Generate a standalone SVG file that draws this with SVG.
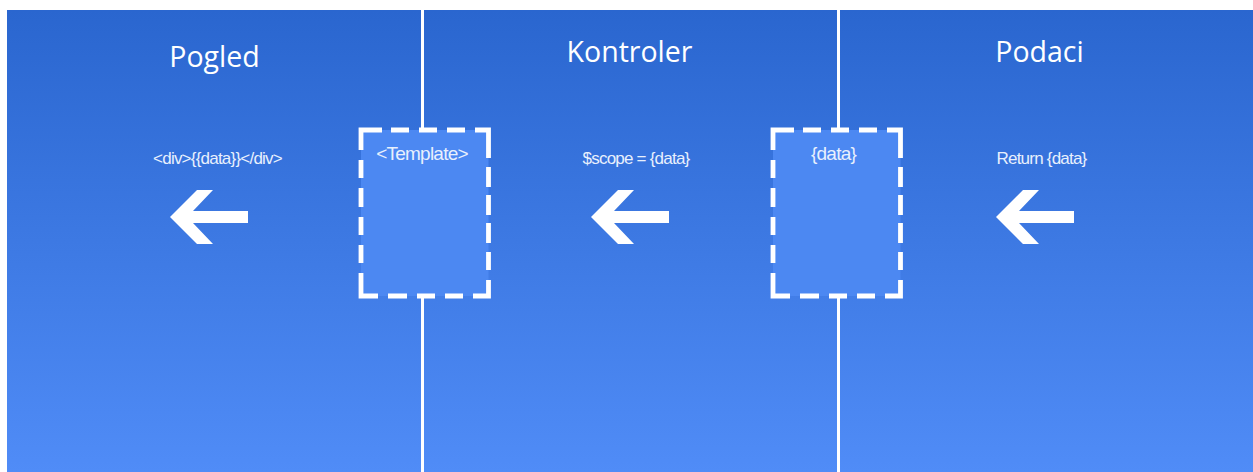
<svg xmlns="http://www.w3.org/2000/svg" width="1253" height="472" viewBox="0 0 1253 472">
<defs>
<linearGradient id="bg" x1="0" y1="0" x2="0" y2="1"><stop offset="0" stop-color="#2a66cf"/><stop offset="1" stop-color="#508cf7"/></linearGradient>
<path id="arrow" d="M0 0L27 -27H43L23 -6H78V6H23L43 27H27Z" fill="#fff"/>
<path id="dashes" fill="none" stroke="#fff" stroke-width="4.800" d="M361 150V130H382M391 130H409M419 130H437M447 130H465M475 130H488.500V158M488.500 167V187M488.500 195V215M488.500 223V243M488.500 252V270M488.500 280V296H473M463 296H445M435 296H417M407 296H388M378 296H361V273M361 263V245M361 235V217M361 207V188M361 178V160"/>
</defs>
<style>
.title{font-family:"Open Sans","Noto Sans",sans-serif;font-size:28.500px;fill:#fff;text-anchor:middle}
.small{font-family:"Liberation Sans",Arial,sans-serif;font-size:17px;fill:#e8f0fd;text-anchor:middle;letter-spacing:-.78px}
.big{font-size:19px}
.box{fill:#4c88f2}
.line{stroke:#fff;stroke-width:3;fill:none}
</style>
<rect width="1253" height="472" fill="#fff"/>
<rect x="7" y="10" width="1246" height="462" fill="url(#bg)"/>
<g id="connectors">
<path class="line" d="M422.500 10V128M422.500 297V472M838.500 10V128M838.500 297V472"/>
</g>
<g id="node-template">
<rect class="box" x="361" y="130" width="127.500" height="166"/>
<use href="#dashes"/>
<text class="small big" x="422" y="160">&lt;Template&gt;</text>
</g>
<g id="node-data">
<rect class="box" x="773" y="130" width="127.500" height="166"/>
<use href="#dashes" x="412"/>
<text class="small big" x="833.500" y="160">{data}</text>
</g>
<g id="node-pogled">
<text class="title" x="214.500" y="67">Pogled</text>
<text class="small" x="217.500" y="164">&lt;div&gt;{{data}}&lt;/div&gt;</text>
<use href="#arrow" x="170" y="217"/>
</g>
<g id="node-kontroler">
<text class="title" x="629.500" y="62">Kontroler</text>
<text class="small" x="636" y="164">$scope = {data}</text>
<use href="#arrow" x="591" y="217"/>
</g>
<g id="node-podaci">
<text class="title" x="1039.500" y="62">Podaci</text>
<text class="small" x="1041.500" y="164">Return {data}</text>
<use href="#arrow" x="996" y="217"/>
</g>
</svg>
